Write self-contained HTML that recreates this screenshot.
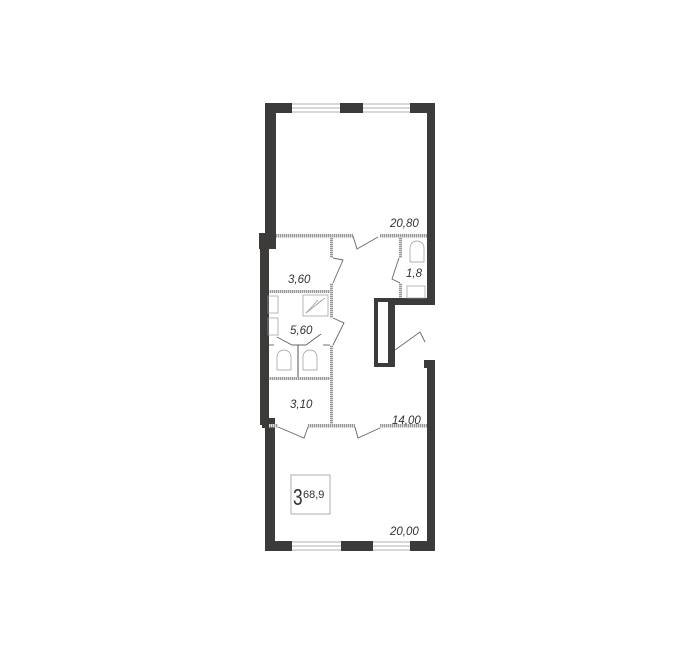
<!DOCTYPE html>
<html><head><meta charset="utf-8"><style>
html,body{margin:0;padding:0;background:#fff;}
svg{display:block}
text{font-family:"Liberation Sans",sans-serif;fill:#333;}
</style></head><body>
<svg width="700" height="654" viewBox="0 0 700 654" xmlns="http://www.w3.org/2000/svg">
<defs>
<pattern id="h" width="2" height="2" patternUnits="userSpaceOnUse"><rect width="2" height="2" fill="#d8d8d8"/><rect width="1" height="2" fill="#999"/></pattern>
<pattern id="v" width="2" height="2" patternUnits="userSpaceOnUse"><rect width="2" height="2" fill="#d8d8d8"/><rect width="2" height="1" fill="#999"/></pattern>
</defs>
<g fill="#3d3b3a">
<!-- top -->
<rect x="265" y="103" width="27" height="10"/>
<rect x="340" y="103" width="23" height="10"/>
<rect x="410" y="103" width="25" height="10"/>
<rect x="265" y="103" width="11" height="130"/>
<rect x="427" y="103" width="8" height="200"/>
<!-- left middle -->
<rect x="259" y="233" width="17" height="16"/>
<rect x="260" y="233" width="9" height="192"/>
<rect x="262" y="418" width="13" height="10"/>
<rect x="265" y="420" width="10" height="130"/>
<!-- notch -->
<rect x="374" y="298" width="61" height="7"/>
<rect x="374" y="298" width="21" height="69"/>
<!-- right lower -->
<rect x="427" y="360" width="8" height="190"/>
<rect x="424" y="360" width="5" height="8"/>
<!-- bottom -->
<rect x="265" y="541" width="27" height="10"/>
<rect x="341" y="541" width="32" height="10"/>
<rect x="410" y="541" width="25" height="10"/>
</g>
<rect x="378" y="302" width="10" height="61" fill="#fff"/>
<!-- windows -->
<g stroke="#999" stroke-width="0.8" fill="none">
<line x1="292" y1="104" x2="340" y2="104"/><line x1="292" y1="108" x2="340" y2="108"/><line x1="292" y1="112" x2="340" y2="112"/>
<line x1="363" y1="104" x2="410" y2="104"/><line x1="363" y1="108" x2="410" y2="108"/><line x1="363" y1="112" x2="410" y2="112"/>
<line x1="292" y1="542" x2="341" y2="542"/><line x1="292" y1="546" x2="341" y2="546"/><line x1="292" y1="550" x2="341" y2="550"/>
<line x1="373" y1="542" x2="410" y2="542"/><line x1="373" y1="546" x2="410" y2="546"/><line x1="373" y1="550" x2="410" y2="550"/>
</g>
<!-- partitions -->
<g>
<rect x="276" y="234" width="77" height="3.5" fill="url(#h)"/>
<rect x="380" y="234" width="47" height="3.5" fill="url(#h)"/>
<rect x="330" y="237" width="3" height="21" fill="url(#v)"/>
<rect x="330" y="283" width="3" height="35" fill="url(#v)"/>
<rect x="330" y="345" width="3" height="80" fill="url(#v)"/>
<rect x="269" y="290" width="61" height="3" fill="url(#h)"/>
<rect x="399" y="237" width="3" height="21" fill="url(#v)"/>
<rect x="399" y="283" width="3" height="15" fill="url(#v)"/>
<rect x="269" y="377" width="61" height="3" fill="url(#h)"/>
<rect x="297" y="345" width="2" height="32" fill="#aaa"/>
<rect x="269" y="424" width="9" height="3.5" fill="url(#h)"/>
<rect x="308" y="424" width="47" height="3.5" fill="url(#h)"/>
<rect x="380" y="424" width="47" height="3.5" fill="url(#h)"/>
</g>
<!-- doors -->
<g stroke="#666" stroke-width="0.9" fill="none">
<polyline points="353,236 357,249 378,237"/>
<polyline points="333,258 343,260 333,283"/>
<polyline points="399,258 392,279 400,283"/>
<polyline points="333,318 344,323 333,345"/>
<polyline points="277,337 292,345 299,345 306,345 321,334"/>
<polyline points="269,345 274,345"/><polyline points="323,345 330,345"/>
<polyline points="395,350 420,332 425,342"/>
<polyline points="278,427 304,438 308,427"/>
<polyline points="355,427 358,438 380,428"/>
</g>
<!-- fixtures -->
<g stroke="#999" stroke-width="0.7" fill="none">
<rect x="268" y="296" width="10" height="17"/>
<rect x="268" y="318" width="10" height="17"/>
<rect x="303" y="295" width="25" height="21"/>
<line x1="306" y1="313" x2="325" y2="298"/><line x1="306" y1="313" x2="322" y2="300"/><line x1="306" y1="313" x2="318" y2="300"/>
<path d="M277,370 v-13 a7,7 0 0 1 14,0 v13 z"/>
<path d="M303,370 v-13 a7,7 0 0 1 14,0 v13 z"/>
<path d="M410,262 v-14 a7,7 0 0 1 14,0 v14 z"/>
<rect x="407" y="286" width="18" height="12"/>
</g>
<!-- labels -->
<g font-style="italic" font-size="11.5" font-weight="300">
<text x="390" y="227">20,80</text>
<text x="288" y="283">3,60</text>
<text x="406" y="277">1,8</text>
<text x="290" y="334">5,60</text>
<text x="290" y="408">3,10</text>
<text x="392" y="424">14,00</text>
<text x="390" y="535">20,00</text>
</g>
<rect x="291" y="475" width="39" height="39" fill="none" stroke="#999" stroke-width="0.8"/>
<text x="293" y="505" font-size="23" transform="translate(293 505) scale(0.75 1) translate(-293 -505)">3</text>
<text x="303" y="498" font-size="11">68,9</text>
</svg>
</body></html>
